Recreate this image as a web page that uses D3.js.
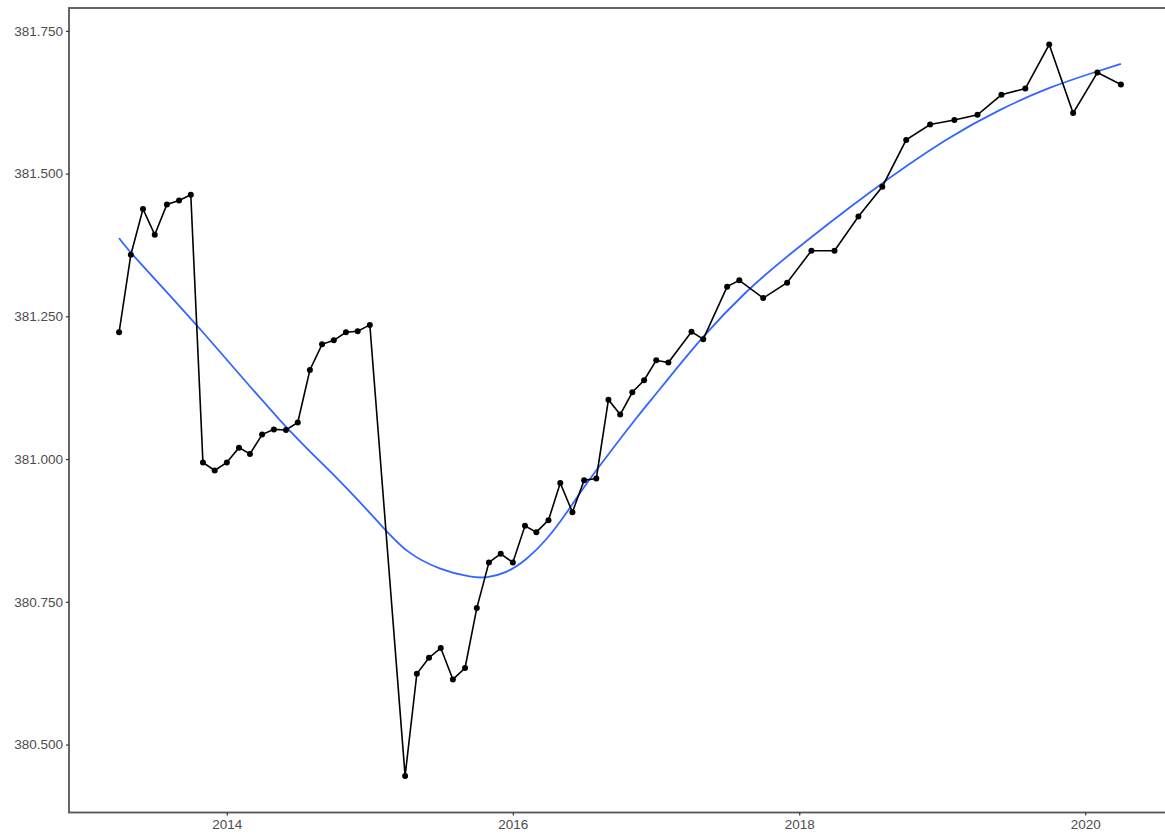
<!DOCTYPE html>
<html>
<head>
<meta charset="utf-8">
<script src="https://cdn.jsdelivr.net/npm/d3@7"></script>
<style>
  html, body { margin: 0; padding: 0; background: #ffffff; }
  svg { display: block; }
  .tick text { font-family: "Liberation Sans", Arial, sans-serif; }
</style>
</head>
<body>
<svg id="chart" width="1165" height="837"></svg>
<script>
// Monthly observations (some months absent)
const months = [
  "2013-04","2013-05","2013-06","2013-07","2013-08","2013-09","2013-10","2013-11","2013-12",
  "2014-01","2014-02","2014-03","2014-04","2014-05","2014-06","2014-07","2014-08","2014-09","2014-10","2014-11","2014-12",
  "2015-01","2015-04","2015-05","2015-06","2015-07","2015-08","2015-09","2015-10","2015-11","2015-12",
  "2016-01","2016-02","2016-03","2016-04","2016-05","2016-06","2016-07","2016-08","2016-09","2016-10","2016-11","2016-12",
  "2017-01","2017-02","2017-04","2017-05","2017-07","2017-08","2017-10","2017-12",
  "2018-02","2018-04","2018-06","2018-08","2018-10","2018-12",
  "2019-02","2019-04","2019-06","2019-08","2019-10","2019-12",
  "2020-02","2020-04"
];
const values = [
  381.222, 381.358, 381.438, 381.393, 381.446, 381.453, 381.463, 380.994, 380.980,
  380.994, 381.020, 381.009, 381.043, 381.052, 381.051, 381.064, 381.156, 381.201, 381.208, 381.222, 381.224,
  381.235, 380.445, 380.624, 380.652, 380.669, 380.614, 380.634, 380.739, 380.819, 380.834,
  380.819, 380.883, 380.872, 380.893, 380.958, 380.907, 380.963, 380.966, 381.104, 381.078, 381.117, 381.138,
  381.173, 381.169, 381.223, 381.210, 381.302, 381.313, 381.282, 381.309,
  381.365, 381.365, 381.425, 381.477, 381.559, 381.586,
  381.594, 381.603, 381.638, 381.649, 381.726, 381.606,
  381.677, 381.656
];

// Smoothed trend line (dates and fitted values)
const trendDates = [
  "2013-04-01","2013-05-01","2013-10-16","2014-06-02","2014-10-16","2015-02-04","2015-04-04",
  "2015-06-28","2015-09-21","2015-10-25","2015-12-15","2016-02-04","2016-03-27",
  "2016-05-17","2016-07-07","2016-08-27","2016-11-20","2017-01-02","2017-05-01",
  "2017-08-20","2017-11-17","2018-07-01","2019-01-21","2019-05-29","2019-10-03",
  "2020-01-31","2020-04-01"
];
const trendValues = [
  381.387, 381.360, 381.237, 381.051, 380.964, 380.880, 380.836,
  380.806, 380.792, 380.792, 380.800, 380.823, 380.858,
  380.905, 380.958, 381.004, 381.080, 381.115, 381.217,
  381.295, 381.348, 381.470, 381.566, 381.613, 381.652,
  381.679, 381.692
];

const yTicks = [380.5, 380.75, 381.0, 381.25, 381.5, 381.75];
const xTickYears = [2014, 2016, 2018, 2020];

const parseMonth = d3.timeParse("%Y-%m");
const parseDay = d3.timeParse("%Y-%m-%d");
const data = months.map((m, i) => ({ date: parseMonth(m), value: values[i] }));
const trend = trendDates.map((d, i) => ({ date: parseDay(d), value: trendValues[i] }));

const W = 1165, H = 837;
const panel = { left: 69, top: 8, bottom: 812.5 };

// Scales with 5% padding on each side of the data range
const tExt = d3.extent(data, d => d.date);
const tPad = (tExt[1] - tExt[0]) * 0.05;
const x = d3.scaleTime()
  .domain([new Date(+tExt[0] - tPad), new Date(+tExt[1] + tPad)])
  .range([panel.left, 1171]);
const vExt = d3.extent(data, d => d.value);
const vPad = (vExt[1] - vExt[0]) * 0.05;
const y = d3.scaleLinear()
  .domain([vExt[0] - vPad, vExt[1] + vPad])
  .range([panel.bottom, panel.top]);

const svg = d3.select("#chart");
svg.append("rect").attr("width", W).attr("height", H).attr("fill", "#ffffff");

const plot = svg.append("g");

// Smoothed trend
plot.append("path")
  .datum(trend)
  .attr("fill", "none")
  .attr("stroke", "#3366FF")
  .attr("stroke-width", 1.8)
  .attr("d", d3.line().curve(d3.curveBasis).x(d => x(d.date)).y(d => y(d.value)));

// Observed series
plot.append("path")
  .datum(data)
  .attr("fill", "none")
  .attr("stroke", "#000000")
  .attr("stroke-width", 1.6)
  .attr("d", d3.line().x(d => x(d.date)).y(d => y(d.value)));

plot.selectAll("circle.pt")
  .data(data)
  .enter().append("circle")
  .attr("class", "pt")
  .attr("cx", d => x(d.date))
  .attr("cy", d => y(d.value))
  .attr("r", 3)
  .attr("fill", "#000000");

// Panel border
svg.append("rect")
  .attr("x", panel.left)
  .attr("y", panel.top)
  .attr("width", x.range()[1] - panel.left)
  .attr("height", panel.bottom - panel.top)
  .attr("fill", "none")
  .attr("stroke", "#555555")
  .attr("stroke-width", 1.8);

// Axes
const yAxis = d3.axisLeft(y)
  .tickValues(yTicks)
  .tickFormat(d3.format(".3f"))
  .tickSize(3)
  .tickPadding(3);
const gy = svg.append("g").attr("transform", `translate(${panel.left},0)`).call(yAxis);

const xAxis = d3.axisBottom(x)
  .tickValues(xTickYears.map(yr => new Date(yr, 0, 1)))
  .tickFormat(d3.timeFormat("%Y"))
  .tickSize(3)
  .tickPadding(4);
const gx = svg.append("g").attr("transform", `translate(0,${panel.bottom})`).call(xAxis);

[gx, gy].forEach(g => {
  g.select(".domain").remove();
  g.selectAll(".tick line").attr("stroke", "#333333").attr("stroke-width", 1.2);
  g.selectAll(".tick text").attr("fill", "#4d4d4d").attr("font-size", 13.5);
});
</script>
</body>
</html>
